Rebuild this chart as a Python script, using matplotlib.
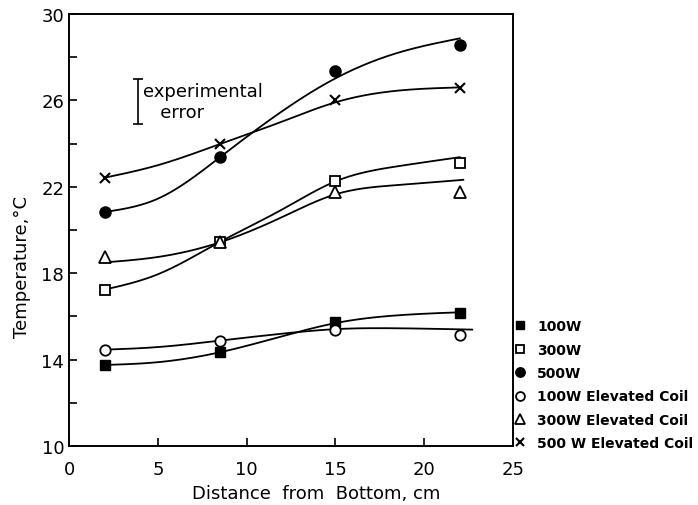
import numpy as np
import matplotlib
matplotlib.use("Agg")
import matplotlib.pyplot as plt

# measurement positions (cm from bottom)
dist = [2, 8.5, 15, 22]

# measured temperatures, degC
t_100 = [13.75, 14.34, 15.74, 16.14]
t_300 = [17.24, 19.45, 22.28, 23.08]
t_500 = [20.83, 23.37, 27.37, 28.56]
t_100_ec = [14.46, 14.88, 15.38, 15.14]
t_300_ec = [18.74, 19.45, 21.75, 21.78]
t_500_ec = [22.42, 23.98, 26.00, 26.57]

curve_x = [2, 5, 8.5, 12, 15, 18.5, 22]
c_100 = [13.75, 13.88, 14.34, 15.08, 15.69, 16.05, 16.19]
c_300 = [17.24, 17.95, 19.45, 20.95, 22.25, 22.95, 23.37]
c_500 = [20.83, 21.45, 23.37, 25.50, 27.02, 28.20, 28.87]
c_100_ec = [14.46, 14.58, 14.88, 15.20, 15.41, 15.45, 15.40]
c_300_ec = [18.50, 18.75, 19.43, 20.60, 21.65, 22.08, 22.31]
c_500_ec = [22.42, 23.00, 23.98, 25.02, 25.91, 26.45, 26.60]

labels = ["100W", "300W", "500W", "100W Elevated Coil",
          "300W Elevated Coil", "500 W Elevated Coil"]


def natural_spline(xk, yk, xs):
    xk = np.asarray(xk, float)
    yk = np.asarray(yk, float)
    n = len(xk)
    h = np.diff(xk)
    A = np.zeros((n, n))
    b = np.zeros(n)
    A[0, 0] = A[-1, -1] = 1
    for i in range(1, n - 1):
        A[i, i - 1] = h[i - 1]
        A[i, i] = 2 * (h[i - 1] + h[i])
        A[i, i + 1] = h[i]
        b[i] = 3 * ((yk[i + 1] - yk[i]) / h[i] - (yk[i] - yk[i - 1]) / h[i - 1])
    c = np.linalg.solve(A, b)
    bb = (yk[1:] - yk[:-1]) / h - h * (2 * c[:-1] + c[1:]) / 3
    d = (c[1:] - c[:-1]) / (3 * h)
    idx = np.clip(np.searchsorted(xk, xs) - 1, 0, n - 2)
    dx = xs - xk[idx]
    return yk[idx] + bb[idx] * dx + c[idx] * dx ** 2 + d[idx] * dx ** 3


plt.rcParams['font.family'] = ['DejaVu Sans']

fig = plt.figure(figsize=(6.98, 5.06), dpi=100)
ax = fig.add_axes([0.099, 0.1166, 0.636, 0.8538])

series = [t_100, t_300, t_500, t_100_ec, t_300_ec, t_500_ec]
curves = [c_100, c_300, c_500, c_100_ec, c_300_ec, c_500_ec]
curve_end = [22.0, 22.0, 22.0, 22.7, 22.2, 22.0]
styles = [
    dict(marker="s", mfc="black", mec="black", ms=7),
    dict(marker="s", mfc="white", mec="black", ms=7, mew=1.3),
    dict(marker="o", mfc="black", mec="black", ms=8),
    dict(marker="o", mfc="white", mec="black", ms=7.5, mew=1.3),
    dict(marker="^", mfc="white", mec="black", ms=8.5, mew=1.3),
    dict(marker="x", color="black", ms=7, mew=1.5),
]

handles = []
for y, c, st, end in zip(series, curves, styles, curve_end):
    xs = np.linspace(curve_x[0], end, 300)
    ax.plot(xs, natural_spline(curve_x, c, xs), color="black", lw=1.3, zorder=2)
    h, = ax.plot(dist, y, ls="none", zorder=3, **st)
    handles.append(h)

# experimental error bar
ax.errorbar([3.9], [25.95], yerr=[1.04], color="black", capsize=3.5,
            elinewidth=1.2, capthick=1.2)
ax.text(4.15, 25.95, "experimental\n   error", fontsize=13, ha="left",
        va="center", linespacing=1.25)

ax.set_xlim(0, 25)
ax.set_ylim(10, 30)
ax.set_xticks(range(0, 26, 5))
ax.set_yticks(range(10, 31, 4))
ax.set_yticks(range(12, 29, 4), minor=True)
ax.tick_params(direction="in", length=6, width=1.2, labelsize=13)
ax.tick_params(axis="x", pad=10)
ax.tick_params(which="minor", direction="in", length=6, width=1.2)
for s in ax.spines.values():
    s.set_linewidth(1.4)

ax.set_xlabel("Distance  from  Bottom, cm", fontsize=13)
ax.set_ylabel("Temperature,°C", fontsize=13)
ax.xaxis.set_label_coords(0.556, -0.088)
ax.yaxis.set_label_coords(-0.085, 0.417)

fig.legend(handles, labels, loc="lower left",
           bbox_to_anchor=(0.739, 0.108), frameon=False,
           handlelength=0.6, handletextpad=0.93, labelspacing=0.68,
           borderpad=0, borderaxespad=0, markerscale=0.85,
           prop={"size": 10, "weight": "bold"})

fig.savefig("out.png", dpi=100)
